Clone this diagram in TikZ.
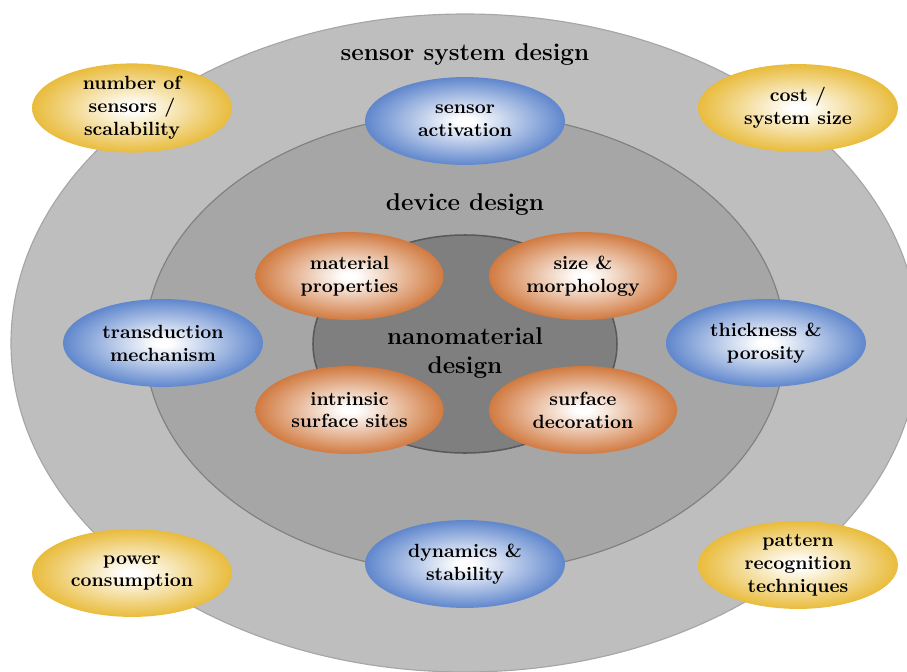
\documentclass[tikz,border=0pt]{standalone}
\usetikzlibrary{shapes.geometric}
\definecolor{ringouter}{HTML}{BEBEBE}
\definecolor{ringmid}{HTML}{A6A6A6}
\definecolor{ringinner}{HTML}{7F7F7F}
\definecolor{sensorblue}{HTML}{4472C4}
\definecolor{nanoorange}{HTML}{C9631F}
\definecolor{systemgold}{HTML}{E5B01A}
\pgfdeclareradialshading{blueglow}{\pgfpoint{0bp}{0bp}}{color(0bp)=(white); color(2bp)=(white); color(29bp)=(sensorblue); color(50bp)=(sensorblue)}
\pgfdeclareradialshading{orangeglow}{\pgfpoint{0bp}{0bp}}{color(0bp)=(white); color(2bp)=(white); color(29bp)=(nanoorange); color(50bp)=(nanoorange)}
\pgfdeclareradialshading{goldglow}{\pgfpoint{0bp}{0bp}}{color(0bp)=(white); color(2bp)=(white); color(29bp)=(systemgold); color(50bp)=(systemgold)}
\begin{document}
\begin{tikzpicture}[x=0.5236pt,y=0.5236pt,
  bubble/.style={ellipse,inner sep=0pt,minimum width=104.7pt,minimum height=46pt,align=center,font=\bfseries},
  bluebubble/.style={bubble,shade,shading=blueglow},
  orangebubble/.style={bubble,shade,shading=orangeglow,minimum width=98.5pt},
  goldbubble/.style={bubble,shade,shading=goldglow},
  ringtitle/.style={align=center,font=\fontsize{12.7}{15.5}\selectfont\bfseries}]
  \useasboundingbox (-465,-328) rectangle (442,343);
  \draw [fill=ringouter,draw=black!35,line width=0.6pt] (0,0) ellipse (454 and 329);
  \draw [fill=ringmid,draw=black!50,line width=0.6pt] (0,0) ellipse (320 and 230);
  \draw [fill=ringinner,draw=black!65,line width=0.8pt] (0,-1) ellipse (152 and 109);
  \node (sysdesign) [ringtitle] at (0,288) {sensor system design};
  \node (devdesign) [ringtitle] at (0,138) {device design};
  \node (nanodesign) [ringtitle] at (0,-10) {nanomaterial\\design};
  \node (activation) [bluebubble] at (0,222) {sensor\\activation};
  \node (dynamics) [bluebubble] at (0,-221) {dynamics \&\\stability};
  \node (transduction) [bluebubble] at (-302,0) {transduction\\mechanism};
  \node (porosity) [bluebubble] at (301,0) {thickness \&\\porosity};
  \node (material) [orangebubble] at (-115.5,67) {material\\properties};
  \node (morphology) [orangebubble] at (118,67) {size \&\\morphology};
  \node (sites) [orangebubble] at (-115.5,-67) {intrinsic\\surface sites};
  \node (decoration) [orangebubble] at (118,-67) {surface\\decoration};
  \node (scalability) [goldbubble] at (-333,235) {number of\\sensors /\\scalability};
  \node (cost) [goldbubble] at (333,235) {cost /\\system size};
  \node (power) [goldbubble] at (-333,-230) {power\\consumption};
  \node (pattern) [goldbubble] at (333,-222) {pattern\\recognition\\techniques};
\end{tikzpicture}
\end{document}
